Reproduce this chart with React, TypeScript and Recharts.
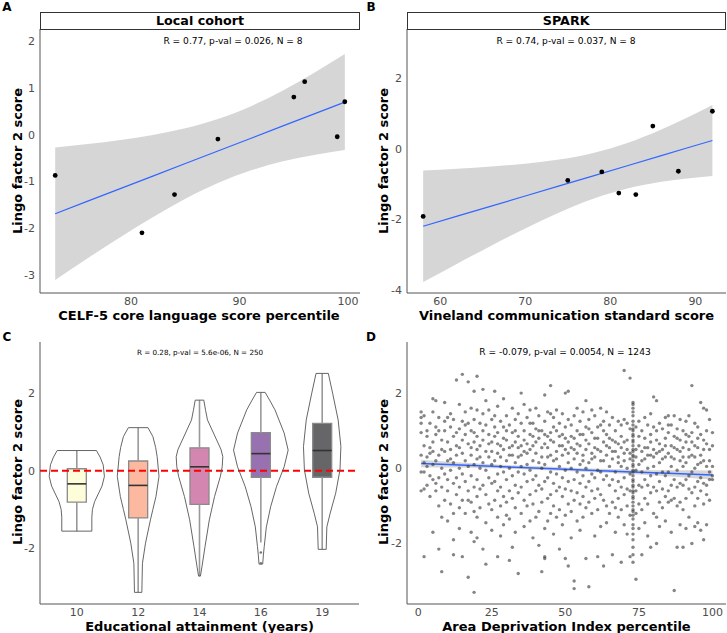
import React from "react";
import {
  Area,
  ComposedChart,
  Line,
  ReferenceArea,
  ReferenceLine,
  Scatter,
  XAxis,
  YAxis,
} from "recharts";

// ---- A: local cohort ----
const celfScores = [73, 81, 84, 88, 95, 96, 99, 99.7];
const celfLingo = [-0.87, -2.1, -1.28, -0.09, 0.81, 1.14, -0.04, 0.71];
const celfBandX = [73, 76, 79, 82, 85, 88, 91, 94, 97, 99.7];
const celfFit = [-1.69, -1.421, -1.152, -0.883, -0.614, -0.346, -0.077, 0.192, 0.461, 0.703];
const celfLo = [-3.11, -2.644, -2.194, -1.765, -1.371, -1.033, -0.765, -0.568, -0.425, -0.326];
const celfHi = [-0.27, -0.198, -0.11, -0.001, 0.143, 0.341, 0.611, 0.952, 1.347, 1.732];

// ---- B: SPARK ----
const sparkScores = [58, 75, 79, 81, 83, 85, 88, 92];
const sparkLingo = [-1.91, -0.89, -0.65, -1.25, -1.29, 0.65, -0.63, 1.07];
const sparkBandX = [58, 62, 66, 70, 74, 78, 82, 86, 89, 92];
const sparkFit = [-2.19, -1.904, -1.618, -1.332, -1.046, -0.76, -0.474, -0.188, 0.027, 0.241];
const sparkLo = [-3.77, -3.249, -2.739, -2.249, -1.797, -1.41, -1.12, -0.93, -0.833, -0.762];
const sparkHi = [-0.61, -0.559, -0.497, -0.415, -0.296, -0.11, 0.172, 0.554, 0.887, 1.244];

// ---- C: education ----
const eduLabels = ["10", "12", "14", "16", "19"];
const eduColors = ["#FCFDBF", "#FB8861", "#B63679", "#51127C", "#000004"];
const eduQ1 = [-0.81, -1.22, -0.87, -0.17, -0.17];
const eduMedian = [-0.34, -0.38, 0.1, 0.44, 0.52];
const eduQ3 = [0.05, 0.25, 0.59, 0.98, 1.22];
const eduWhiskerLo = [-1.56, -3.14, -2.72, -1.85, -2.03];
const eduWhiskerHi = [0.52, 1.11, 1.82, 2.02, 2.51];
const eduOutliers = [
  { x: 4, y: -2.11 },
  { x: 4, y: -2.39 },
];
// violin profiles: [score, half width in category units]
const eduViolins: [number, number][][] = [
  [[0.52, 0.32], [0.35, 0.38], [0.15, 0.43], [-0.15, 0.45], [-0.4, 0.41], [-0.6, 0.35], [-0.8, 0.29], [-1.0, 0.255], [-1.2, 0.245], [-1.56, 0.245]],
  [[1.11, 0.16], [0.88, 0.24], [0.6, 0.285], [0.36, 0.31], [-0.15, 0.34], [-0.67, 0.29], [-1.0, 0.24], [-1.27, 0.2], [-1.87, 0.12], [-2.39, 0.07], [-3.14, 0.06]],
  [[1.82, 0.07], [1.55, 0.1], [1.31, 0.13], [0.79, 0.28], [0.55, 0.35], [0.36, 0.38], [0.1, 0.37], [-0.15, 0.34], [-0.67, 0.245], [-1.27, 0.16], [-1.96, 0.09], [-2.48, 0.04], [-2.72, 0.015]],
  [[2.02, 0.07], [1.8, 0.15], [1.57, 0.23], [0.97, 0.38], [0.53, 0.445], [0.1, 0.38], [-0.41, 0.255], [-0.93, 0.16], [-1.45, 0.09], [-1.96, 0.055], [-2.2, 0.04], [-2.41, 0.03]],
  [[2.51, 0.1], [2.0, 0.17], [1.31, 0.26], [0.62, 0.305], [0.02, 0.29], [-0.58, 0.22], [-1.1, 0.13], [-1.45, 0.076], [-2.03, 0.065]],
];

// ---- D: area deprivation ----
const adiColumns: [number, number[]][] = [
  [1, [1.5, 1.35, 0.95, 0.35, -0.1, -0.6, 1.2]],
  [2, [1.4, 0.6, -0.1, -2.35, 0.15, -0.55]],
  [3, [1.0, 0.3, 0.85, -0.45, 0.05]],
  [4, [1.2, 0.55, -0.2, -0.75, 0.4]],
  [5, [1.85, 1.5, 0.7, 0.1, -0.3, -1.7, 0.45]],
  [6, [1.8, 1.1, 0.2, -0.4, -0.6, 0.9]],
  [7, [1.0, 0.35, -0.25, -1.0, -2.15, 1.35]],
  [8, [0.75, 0.0, -0.5, -1.3, -2.75, 0.5]],
  [9, [1.75, 1.25, 0.45, -0.15, -0.85, 1.0]],
  [10, [1.35, 0.7, 0.2, -0.6, -1.4, -0.3]],
  [11, [1.1, 0.5, -0.05, -0.95, 0.25, 1.45]],
  [12, [1.3, 0.85, 0.15, -0.4, -1.2, -2.3, -1.9]],
  [13, [2.35, 0.95, 0.35, -0.25, -0.7, 0.6]],
  [14, [1.7, 1.05, 0.55, 0.0, -0.5, -1.05, -1.6]],
  [15, [2.5, 1.25, 0.4, -0.15, -0.85, -2.35, 0.75]],
  [16, [1.5, 0.9, 0.2, -0.35, -1.2, 1.15]],
  [17, [2.3, 1.2, 0.65, 0.05, -0.6, -0.85, -2.9]],
  [18, [1.6, 1.0, 0.35, -0.2, -0.9, -1.7, 0.55]],
  [19, [2.05, 1.3, 0.7, 0.1, -0.5, -1.15, -1.95, -3.3, 0.95]],
  [20, [2.45, 1.55, 0.85, 0.25, -0.3, -0.75, -1.3, -1.85, 0.5]],
  [21, [1.2, 0.6, 0.0, -0.55, -1.05, 0.3]],
  [22, [2.1, 1.45, 0.75, 0.15, -0.45, -2.15, 1.0]],
  [23, [1.8, 1.15, 0.45, -0.05, -0.7, -1.45, -2.55]],
  [24, [1.55, 0.9, 0.3, -0.25, -0.95, 0.65]],
  [25, [1.3, 0.7, 0.1, -0.4, -1.1, -1.65, 0.45]],
  [26, [2.05, 1.4, 0.85, 0.2, -0.35, -0.85, 1.1]],
  [27, [1.65, 0.95, 0.4, -0.15, -0.6, -1.3, -2.35, 0.65]],
  [28, [1.25, 0.6, 0.05, -0.5, -1.0, -1.8, 0.3]],
  [29, [1.85, 1.1, 0.5, -0.1, -0.75, -1.5, 0.8]],
  [30, [1.4, 0.75, 0.2, -0.3, -0.9, -1.25, 1.0]],
  [31, [1.15, 0.55, 0.0, -0.6, -1.35, -2.45, 0.35]],
  [32, [1.6, 0.95, 0.35, -0.2, -0.8, -2.1, 0.6]],
  [33, [1.3, 0.7, 0.15, -0.45, -1.05, -1.7, 1.0]],
  [34, [1.45, 0.85, 0.3, -0.1, -0.65, -2.8, 0.55]],
  [35, [2.0, 1.2, 0.6, 0.05, -0.5, -1.2, 0.35]],
  [36, [1.7, 1.0, 0.45, -0.15, -0.85, -1.55, 0.75]],
  [37, [1.35, 0.65, 0.1, -0.35, -1.0, 0.4]],
  [38, [1.55, 0.9, 0.5, -0.05, -0.7, -1.4, 1.2]],
  [39, [1.2, 0.6, 0.2, -0.3, -0.95, -1.85, 0.85]],
  [40, [1.6, 1.05, 0.4, -0.2, -0.6, -1.3, 0.7]],
  [41, [1.4, 0.8, 0.15, -0.45, -1.15, -2.05, 1.0]],
  [42, [1.0, 0.55, 0.0, -0.55, -0.9, -2.75, 0.3]],
  [43, [1.95, 1.25, 0.65, 0.1, -0.35, -1.6, -2.4, -2.35, 0.9]],
  [44, [1.5, 0.85, 0.3, -0.25, -0.8, -1.4, 0.55]],
  [45, [2.2, 1.45, 0.95, 0.35, -0.1, -0.7, -1.2, 0.75]],
  [46, [1.35, 0.7, 0.2, -0.4, -1.0, -1.75, 1.1]],
  [47, [1.55, 1.0, 0.45, -0.15, -0.6, -1.3, 0.25]],
  [48, [1.2, 0.6, 0.05, -0.5, -1.1, -2.15, 0.85]],
  [49, [1.45, 0.9, 0.35, -0.25, -0.75, -1.5, 0.6]],
  [50, [2.0, 1.1, 0.5, -0.05, -0.55, -1.25, -2.4, 0.8]],
  [51, [2.05, 1.3, 0.7, 0.15, -0.35, -0.95, -2.6, 0.4]],
  [52, [1.15, 0.55, 0.0, -0.6, -1.15, -1.85, 0.85]],
  [53, [1.4, 0.8, 0.25, -0.3, -0.85, -3.0, -3.2, 0.5]],
  [54, [1.6, 1.0, 0.4, -0.1, -0.65, -1.4, 0.65]],
  [55, [1.25, 0.6, 0.1, -0.4, -0.95, -1.65, 0.9]],
  [56, [1.5, 0.9, 0.35, -0.2, -0.75, -1.3, 0.2]],
  [57, [1.8, 1.1, 0.5, 0.0, -0.5, -1.05, -2.4, 0.75]],
  [58, [1.3, 0.65, 0.15, -0.35, -0.9, -3.15, 1.05]],
  [59, [1.55, 0.95, 0.4, -0.15, -0.6, -1.2, 0.25]],
  [60, [1.4, 0.8, 0.3, -0.25, -0.8, -1.8, 0.55]],
  [61, [1.1, 0.5, -0.05, -0.55, -1.1, -2.35, 0.8]],
  [62, [1.6, 1.15, 0.45, -0.1, -0.7, -1.55, 0.2]],
  [63, [1.25, 0.7, 0.2, -0.3, -0.85, -2.6, 1.0]],
  [64, [1.5, 0.9, 0.35, -0.2, -1.0, -1.45, 0.6]],
  [65, [1.15, 0.55, 0.05, -0.45, -1.2, 0.8]],
  [66, [1.35, 0.75, 0.25, -0.3, -0.9, -2.3, 0.45]],
  [67, [1.0, 0.45, -0.1, -0.6, -1.05, -1.7, 0.7]],
  [68, [1.25, 0.65, 0.15, -0.35, -0.8, -1.3, 0.3]],
  [69, [1.15, 0.55, 0.05, -0.5, -1.1, -2.5, 0.85]],
  [70, [2.6, 1.3, 0.7, 0.2, -0.25, -0.7, -1.5, 0.4]],
  [71, [1.2, 0.5, 0.0, -0.55, -1.0, -1.75, 0.75]],
  [72, [2.4, 1.05, 0.4, -0.15, -0.6, -1.25, -2.35, 0.25]],
  [73, [1.75, 1.7, 1.6, 1.5, 1.4, 1.25, 1.15, 1.05, 1.0, 0.9, 0.85, 0.75, 0.7, 0.6, 0.5, 0.45, 0.35, 0.3, 0.2, 0.1, 0.05, -0.05, -0.1, -0.2, -0.3, -0.35, -0.45, -0.5, -0.6, -0.65, -0.75, -0.8, -0.9, -1.0, -1.1, -1.15, -1.25, -1.35, -1.5, -1.6, -1.75, -1.9, -2.1, -2.3, -2.5]],
  [74, [1.1, 0.5, -0.05, -0.6, -1.2, -2.95, 0.3]],
  [75, [1.25, 0.6, 0.1, -0.45, -0.95, -1.6, 0.85]],
  [76, [1.0, 0.45, -0.1, -0.5, -1.1, -2.3, 0.2]],
  [77, [1.35, 0.8, 0.25, -0.3, -0.8, -1.45, 0.55]],
  [78, [1.15, 0.55, 0.0, -0.45, -0.95, -1.8, 0.35]],
  [79, [1.45, 0.9, 0.35, -0.2, -0.65, -2.1, 0.7]],
  [80, [1.9, 1.1, 0.5, 0.05, -0.5, -1.2, 0.3]],
  [81, [1.8, 1.0, 0.4, -0.15, -0.6, -1.3, -2.0, 0.75]],
  [82, [1.2, 0.65, 0.15, -0.35, -0.9, -1.55, 0.45]],
  [83, [1.05, 0.5, -0.1, -0.55, -1.05, 0.25]],
  [84, [1.35, 0.8, 0.3, -0.2, -0.75, -1.4, 0.6]],
  [85, [1.4, 0.95, 0.4, -0.1, -0.6, -0.9, 1.15]],
  [86, [1.15, 0.6, 0.05, -0.45, -0.85, -1.7, 0.3]],
  [87, [1.4, 0.85, 0.25, -0.3, -0.8, -3.25, 0.55]],
  [88, [1.05, 0.5, -0.05, -0.5, -1.0, -2.1, 0.8]],
  [89, [1.3, 0.75, 0.2, -0.4, -0.9, -1.5, 0.45]],
  [90, [1.0, 0.55, 0.05, -0.45, -1.1, -2.1, 0.3]],
  [91, [1.25, 0.7, 0.15, -0.3, -0.8, -1.6, 0.9]],
  [92, [1.4, 0.85, 0.3, -0.2, -0.55, -1.3, 0.5]],
  [93, [2.2, 0.95, 0.35, -0.1, -0.65, -2.0, 0.7]],
  [94, [1.2, 0.6, 0.0, -0.5, -1.0, -1.55, 0.3]],
  [95, [1.1, 0.55, 0.1, -0.35, -0.8, -1.45, 0.8]],
  [96, [1.75, 0.9, 0.35, -0.25, -0.6, -1.65, 0.15]],
  [97, [1.6, 0.75, 0.2, -0.4, -0.95, -1.9, 0.5]],
  [98, [1.55, 0.65, 0.05, -0.45, -0.7, -1.5, 1.0]],
  [99, [1.3, 0.5, -0.1, -0.3, -0.85, 0.2]],
  [100, [0.05, -0.3, 0.6, -0.2, 0.95]],
];
const adiBandX = [1, 12, 25, 37, 50, 62, 75, 87, 100];
const adiFit = [0.13, 0.096, 0.055, 0.017, -0.024, -0.062, -0.103, -0.14, -0.18];
const adiLo = [0.03, 0.02, 0.0, -0.03, -0.07, -0.11, -0.163, -0.225, -0.3];
const adiHi = [0.23, 0.17, 0.11, 0.065, 0.022, -0.014, -0.043, -0.055, -0.06];

const FONT = "'DejaVu Sans', Verdana, sans-serif";
const AXIS = "#555";
const TICK = { fill: "#4d4d4d", fontSize: 11 };
const RIBBON = "#999999";
const FIT = "#3366FF";

const zipPoints = (xs: number[], ys: number[]) => xs.map((x, i) => ({ x, y: ys[i] }));
const bandRows = (xs: number[], fit: number[], lo: number[], hi: number[]) =>
  xs.map((x, i) => ({ x, fit: fit[i], band: [lo[i], hi[i]] }));

const dot = (r: number, fill: string, opacity = 1) => (p: any) =>
  <circle cx={p.cx} cy={p.cy} r={r} fill={fill} fillOpacity={opacity} />;
const noDot = () => <g />;

function violinOutline(center: number, profile: [number, number][]) {
  const left = profile.map(([y, w]) => ({ x: center - w, y }));
  const right = [...profile].reverse().map(([y, w]) => ({ x: center + w, y }));
  return [...left, ...right, left[0]];
}

const Txt = ({ x, y, size, bold, rotate, children }: any) => (
  <div
    style={{
      position: "absolute",
      left: x,
      top: y,
      transform: `translate(-50%, -50%)${rotate ? " rotate(-90deg)" : ""}`,
      fontSize: size,
      fontWeight: bold ? "bold" : "normal",
      whiteSpace: "nowrap",
      color: "#000",
      lineHeight: 1,
    }}
  >
    {children}
  </div>
);

const Strip = ({ x, w, label }: any) => (
  <div
    style={{
      position: "absolute",
      left: x,
      top: 12,
      width: w,
      height: 17.5,
      boxSizing: "border-box",
      border: "1px solid #333",
      background: "#fff",
      display: "flex",
      alignItems: "center",
      justifyContent: "center",
      fontWeight: "bold",
      fontSize: 12.7,
    }}
  >
    {label}
  </div>
);

const axisProps = { tick: TICK, tickLine: false, tickSize: 3, stroke: AXIS, allowDataOverflow: true };

function ScatterPanel({ width, height, top, plotH, plotLeft, right, xDomain, yDomain, xTicks, yTicks, rows, points, pointShape, fitWidth }: any) {
  return (
    <ComposedChart width={width} height={height} data={rows} margin={{ top, right, bottom: 0, left: 0 }}>
      <XAxis type="number" dataKey="x" domain={xDomain} ticks={xTicks} height={height - top - plotH} tickMargin={1} {...axisProps} />
      <YAxis type="number" dataKey="y" domain={yDomain} ticks={yTicks} width={plotLeft} tickMargin={2} {...axisProps} />
      <Scatter data={points} dataKey="y" shape={pointShape} isAnimationActive={false} />
      <Area type="monotone" dataKey="band" fill={RIBBON} fillOpacity={0.4} stroke="none" isAnimationActive={false} />
      <Line type="linear" dataKey="fit" stroke={FIT} strokeWidth={fitWidth} dot={false} isAnimationActive={false} />
    </ComposedChart>
  );
}

export default function App() {
  const celfPoints = zipPoints(celfScores, celfLingo);
  const sparkPoints = zipPoints(sparkScores, sparkLingo);
  const adiPoints = adiColumns.flatMap(([x, ys]) => ys.map((y) => ({ x, y })));
  const boxHalf = 0.155;

  return (
    <div style={{ position: "absolute", left: 0, top: 0, width: 727, height: 633, background: "#fff", fontFamily: FONT }}>
      {/* A */}
      <div style={{ position: "absolute", left: 0, top: 0 }}>
        <ScatterPanel
          width={364} height={320} top={29} plotH={264} plotLeft={40} right={4}
          xDomain={[71.6, 101.1]} yDomain={[-3.39, 2.27]}
          xTicks={[80, 90, 100]} yTicks={[-3, -2, -1, 0, 1, 2]}
          rows={bandRows(celfBandX, celfFit, celfLo, celfHi)}
          points={celfPoints} pointShape={dot(2.4, "#000")} fitWidth={1.2}
        />
      </div>
      {/* B */}
      <div style={{ position: "absolute", left: 364, top: 0 }}>
        <ScatterPanel
          width={363} height={320} top={29} plotH={264} plotLeft={43} right={1}
          xDomain={[56.1, 93.6]} yDomain={[-4.08, 3.4]}
          xTicks={[60, 70, 80, 90]} yTicks={[-4, -2, 0, 2]}
          rows={bandRows(sparkBandX, sparkFit, sparkLo, sparkHi)}
          points={sparkPoints} pointShape={dot(2.4, "#000")} fitWidth={1.2}
        />
      </div>
      {/* C */}
      <div style={{ position: "absolute", left: 0, top: 320 }}>
        <ComposedChart width={364} height={313} margin={{ top: 22, right: 5, bottom: 0, left: 0 }}>
          <XAxis type="number" dataKey="x" domain={[0.4, 5.6]} ticks={[1, 2, 3, 4, 5]} tickFormatter={(v: number) => eduLabels[v - 1]} height={29} tickMargin={1} {...axisProps} />
          <YAxis type="number" dataKey="y" domain={[-3.44, 3.32]} ticks={[-2, 0, 2]} width={40} tickMargin={2} {...axisProps} />
          {eduViolins.map((prof, i) => (
            <Scatter key={`v${i}`} data={violinOutline(i + 1, prof)} dataKey="y" line={{ stroke: "#555", strokeWidth: 0.9 }} shape={noDot} isAnimationActive={false} />
          ))}
          {eduLabels.map((_, i) => (
            <ReferenceLine key={`wh${i}`} segment={[{ x: i + 1, y: eduQ3[i] }, { x: i + 1, y: eduWhiskerHi[i] }]} stroke="#999" strokeWidth={1.6} />
          ))}
          {eduLabels.map((_, i) => (
            <ReferenceLine key={`wl${i}`} segment={[{ x: i + 1, y: eduWhiskerLo[i] }, { x: i + 1, y: eduQ1[i] }]} stroke="#999" strokeWidth={1.6} />
          ))}
          {eduLabels.map((_, i) => (
            <ReferenceArea key={`b${i}`} x1={i + 1 - boxHalf} x2={i + 1 + boxHalf} y1={eduQ1[i]} y2={eduQ3[i]} fill={eduColors[i]} fillOpacity={0.6} stroke="#8a8a8a" strokeWidth={1.3} />
          ))}
          {eduLabels.map((_, i) => (
            <ReferenceLine key={`m${i}`} segment={[{ x: i + 1 - boxHalf, y: eduMedian[i] }, { x: i + 1 + boxHalf, y: eduMedian[i] }]} stroke="#333" strokeWidth={1.6} />
          ))}
          <Scatter data={eduOutliers} dataKey="y" shape={dot(1.3, "#777")} isAnimationActive={false} />
          <ReferenceLine y={0} stroke="#ff0000" strokeWidth={2} strokeDasharray="7 4" />
        </ComposedChart>
      </div>
      {/* D */}
      <div style={{ position: "absolute", left: 364, top: 320 }}>
        <ScatterPanel
          width={363} height={313} top={22} plotH={262} plotLeft={43} right={1}
          xDomain={[-3.8, 104.6]} yDomain={[-3.61, 3.36]}
          xTicks={[0, 25, 50, 75, 100]} yTicks={[-2, 0, 2]}
          rows={bandRows(adiBandX, adiFit, adiLo, adiHi)}
          points={adiPoints} pointShape={dot(1.7, "#333", 0.6)} fitWidth={1.5}
        />
      </div>

      <Strip x={40} w={320} label="Local cohort" />
      <Strip x={406.7} w={319} label="SPARK" />

      <Txt x={233} y={42} size={9.1}>R = 0.77, p-val = 0.026, N = 8</Txt>
      <Txt x={566} y={42} size={9.1}>R = 0.74, p-val = 0.037, N = 8</Txt>
      <Txt x={200} y={353} size={7.2}>R = 0.28, p-val = 5.6e-06, N = 250</Txt>
      <Txt x={565} y={353} size={9.1}>R = -0.079, p-val = 0.0054, N = 1243</Txt>

      <Txt x={17} y={161} size={13} bold rotate>Lingo factor 2 score</Txt>
      <Txt x={383} y={161} size={13} bold rotate>Lingo factor 2 score</Txt>
      <Txt x={17} y={472} size={13} bold rotate>Lingo factor 2 score</Txt>
      <Txt x={383} y={472} size={13} bold rotate>Lingo factor 2 score</Txt>

      <Txt x={199} y={314.5} size={13} bold>CELF-5 core language score percentile</Txt>
      <Txt x={566.5} y={314.5} size={13} bold>Vineland communication standard score</Txt>
      <Txt x={199.5} y={626} size={13} bold>Educational attainment (years)</Txt>
      <Txt x={566.5} y={626} size={13} bold>Area Deprivation Index percentile</Txt>

      <Txt x={7} y={6.5} size={12} bold>A</Txt>
      <Txt x={371} y={6.5} size={12} bold>B</Txt>
      <Txt x={7} y={337} size={12} bold>C</Txt>
      <Txt x={371} y={337} size={12} bold>D</Txt>
    </div>
  );
}
